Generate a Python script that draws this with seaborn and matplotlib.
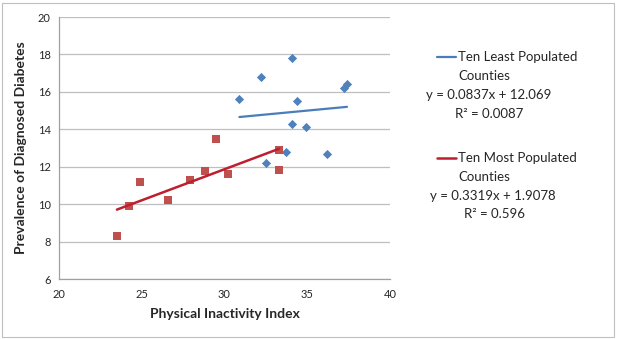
import numpy as np
import pandas as pd
import matplotlib
matplotlib.use("Agg")
import matplotlib.pyplot as plt
from matplotlib.lines import Line2D
from matplotlib.patches import Rectangle
import seaborn as sns

# Data
least_x = [30.9, 32.2, 34.1, 34.4, 34.1, 34.9, 33.7, 32.5, 36.2, 37.2, 37.4]
least_y = [15.6, 16.8, 17.8, 15.5, 14.3, 14.1, 12.8, 12.2, 12.7, 16.2, 16.4]
most_x = [23.5, 24.2, 24.9, 26.6, 27.9, 28.8, 29.5, 30.2, 33.3, 33.3]
most_y = [8.3, 9.9, 11.2, 10.2, 11.3, 11.75, 13.5, 11.6, 12.9, 11.8]

least_fit = [0.0837, 12.069]
most_fit = [0.3319, 1.9078]
least_range = [30.9, 37.4]
most_range = [23.5, 33.3]

x_ticks = [20, 25, 30, 35, 40]
y_ticks = [6, 8, 10, 12, 14, 16, 18, 20]

sns.set_style("white")
plt.rcParams['font.family'] = ['Lato', 'DejaVu Sans']

BLUE = "#4F81BD"
RED = "#C0504D"
BLUE_LINE = "#4A7EBB"
RED_LINE = "#BE1E2D"

fig = plt.figure(figsize=(6.21, 3.39), dpi=100)
ax = fig.add_axes([59/621, 1-279/339, (390-59)/621, (279-17)/339])

df_least = pd.DataFrame({"x": least_x, "y": least_y})
df_most = pd.DataFrame({"x": most_x, "y": most_y})

sns.scatterplot(data=df_least, x="x", y="y", marker="D", color=BLUE, s=22,
                edgecolor=BLUE, linewidth=0, ax=ax, zorder=3)
sns.scatterplot(data=df_most, x="x", y="y", marker="s", color=RED, s=40,
                edgecolor=RED, linewidth=0, ax=ax, zorder=3)

lx = np.array(least_range)
mx = np.array(most_range)
sns.lineplot(x=lx, y=least_fit[0]*lx + least_fit[1], color=BLUE_LINE, lw=1.6, ax=ax, zorder=4)
sns.lineplot(x=mx, y=most_fit[0]*mx + most_fit[1], color=RED_LINE, lw=1.8, ax=ax, zorder=4)

ax.set_xlim(20, 40)
ax.set_ylim(6, 20)
ax.set_xticks(x_ticks)
ax.set_yticks(y_ticks)
ax.yaxis.grid(True, color="#BFBFBF", lw=0.9)
ax.xaxis.grid(False)
for s in ["top", "right"]:
    ax.spines[s].set_visible(False)
for s in ["left", "bottom"]:
    ax.spines[s].set_color("#A0A0A0")
    ax.spines[s].set_linewidth(0.9)
ax.tick_params(axis="x", direction="out", length=4, color="#A0A0A0", labelsize=8, pad=3)
ax.tick_params(axis="y", length=0, labelsize=8, pad=6)
ax.set_xlabel("Physical Inactivity Index", fontsize=10, fontweight="bold", labelpad=6)
ax.set_ylabel("Prevalence of Diagnosed Diabetes", fontsize=10, fontweight="bold", labelpad=8)

# Legend / annotations
fs = 9.5
def fy(y):
    return 1 - y/339
def fx(x):
    return x/621

fig.add_artist(Line2D([fx(437), fx(456)], [fy(57), fy(57)], color=BLUE_LINE, lw=1.6))
fig.text(fx(458), fy(57), "Ten Least Populated", fontsize=fs, va="center", ha="left")
fig.text(fx(458), fy(76), "Counties", fontsize=fs, va="center", ha="left")
fig.text(fx(489), fy(95), "y = 0.0837x + 12.069", fontsize=fs, va="center", ha="center")
fig.text(fx(489), fy(114), "R² = 0.0087", fontsize=fs, va="center", ha="center")

fig.add_artist(Line2D([fx(437), fx(456)], [fy(158), fy(158)], color=RED_LINE, lw=1.8))
fig.text(fx(458), fy(158), "Ten Most Populated", fontsize=fs, va="center", ha="left")
fig.text(fx(458), fy(177), "Counties", fontsize=fs, va="center", ha="left")
fig.text(fx(493), fy(196), "y = 0.3319x + 1.9078", fontsize=fs, va="center", ha="center")
fig.text(fx(495), fy(214), "R² = 0.596", fontsize=fs, va="center", ha="center")

fig.add_artist(Rectangle((2/621, 2/339), 612/621, 334/339, fill=False,
                         edgecolor="#BFBFBF", lw=0.8, transform=fig.transFigure))

fig.savefig("out.png", dpi=100)
